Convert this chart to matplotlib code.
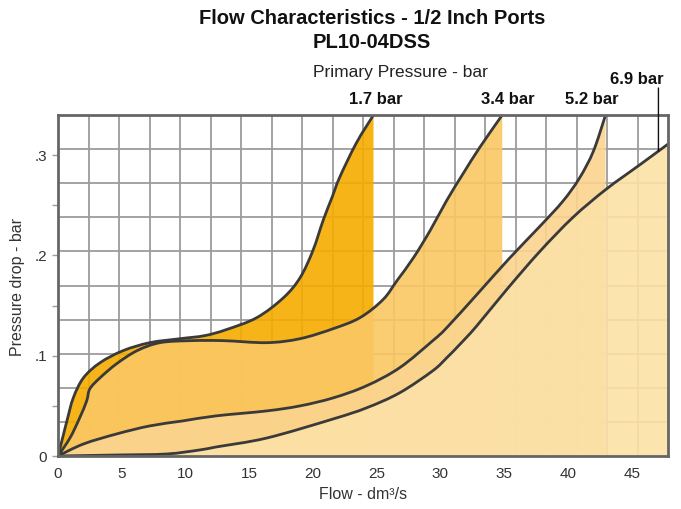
import numpy as np
import matplotlib
matplotlib.use("Agg")
import matplotlib.pyplot as plt
from matplotlib.path import Path
from matplotlib.patches import PathPatch
from matplotlib import transforms

plt.rcParams['font.family'] = ['Liberation Sans', 'DejaVu Sans']

# Pressure drop (bar) against flow (dm3/s) for each primary pressure
flow_17 = [0, 0.4, 0.7, 1.2, 2.0, 3.3, 5.1, 7.2, 9.6, 11.5, 13.2, 15.6, 17.7, 19.0, 20.0, 20.8, 21.5, 22.1, 23.4, 24.75]
drop_17 = [0, 0.02, 0.035, 0.058, 0.078, 0.093, 0.105, 0.113, 0.117, 0.12, 0.126, 0.138, 0.158, 0.178, 0.205, 0.235, 0.258, 0.278, 0.312, 0.34]

flow_34 = [0, 0.94, 1.7, 2.25, 2.5, 3.3, 4.6, 6.2, 8.0, 10.4, 13.0, 16.4, 19.0, 21.6, 23.7, 25.5, 26.6, 27.9, 29.2, 30.5, 31.8, 33.1, 34.85]
drop_34 = [0, 0.018, 0.038, 0.055, 0.067, 0.078, 0.092, 0.105, 0.113, 0.115, 0.115, 0.113, 0.117, 0.127, 0.138, 0.156, 0.175, 0.198, 0.225, 0.255, 0.282, 0.308, 0.34]

flow_52 = [0, 2.0, 4.6, 7.2, 9.8, 12.4, 16.4, 19.0, 21.6, 24.2, 26.8, 29.4, 30.5, 33.0, 35.4, 37.8, 39.6, 40.9, 42.0, 42.95]
drop_52 = [0, 0.012, 0.022, 0.030, 0.035, 0.040, 0.045, 0.050, 0.058, 0.070, 0.088, 0.115, 0.128, 0.163, 0.197, 0.229, 0.254, 0.277, 0.304, 0.34]

flow_69 = [0, 4.6, 8.5, 11.1, 12.4, 16.4, 21.6, 24.2, 26.8, 29.4, 30.5, 31.5, 32.8, 35.2, 37.8, 40.4, 43.0, 45.6, 47.85]
drop_69 = [0, 0.001, 0.002, 0.006, 0.009, 0.018, 0.037, 0.048, 0.063, 0.085, 0.098, 0.111, 0.129, 0.166, 0.204, 0.238, 0.266, 0.290, 0.311]

pressure_labels = ["1.7 bar", "3.4 bar", "5.2 bar", "6.9 bar"]
fill_colors = ["#F6AC00", "#FAC864", "#FBD48F", "#FCE1A7"]

x_ticks = [0, 5, 10, 15, 20, 25, 30, 35, 40, 45]
y_ticks = [0, 0.1, 0.2, 0.3]
y_tick_labels = ["0", ".1", ".2", ".3"]

x_max, y_max = 47.85, 0.34


def smooth_curve(xs, ys):
    """Catmull-Rom style Bezier path through the given points."""
    pts = np.column_stack([xs, ys]).astype(float)
    n = len(pts)
    verts = [pts[0]]
    codes = [Path.MOVETO]
    for i in range(n - 1):
        p0 = pts[i - 1] if i > 0 else pts[i]
        p1, p2 = pts[i], pts[i + 1]
        p3 = pts[i + 2] if i + 2 < n else pts[i + 1]
        verts += [p1 + (p2 - p0) / 6.0, p2 - (p3 - p1) / 6.0, p2]
        codes += [Path.CURVE4] * 3
    return verts, codes


fig = plt.figure(figsize=(6.81, 5.09), dpi=100)
ax = fig.add_axes([58 / 681, 1 - 456 / 509, 610 / 681, 341 / 509])
ax.set_xlim(0, x_max)
ax.set_ylim(0, y_max)

# background grid: 20 x 10 cells
for gx in np.linspace(0, x_max, 21)[1:-1]:
    ax.axvline(gx, color="#9c9c9c", lw=1.3, zorder=0.5)
for gy in np.linspace(0, y_max, 11)[1:-1]:
    ax.axhline(gy, color="#9c9c9c", lw=1.3, zorder=0.5)

series = [(flow_17, drop_17), (flow_34, drop_34), (flow_52, drop_52), (flow_69, drop_69)]
for k, ((fx, fy), col) in enumerate(zip(series, fill_colors)):
    verts, codes = smooth_curve(fx, fy)
    fverts = verts + [(fx[-1], 0.0), (fx[0], 0.0), (fx[0], 0.0)]
    fcodes = codes + [Path.LINETO, Path.LINETO, Path.CLOSEPOLY]
    ax.add_patch(PathPatch(Path(fverts, fcodes), facecolor=col, edgecolor="none",
                           alpha=0.9, zorder=1 + k))
for fx, fy in series:
    verts, codes = smooth_curve(fx, fy)
    ax.add_patch(PathPatch(Path(verts, codes), facecolor="none", edgecolor="#3a3a3a",
                           lw=2.0, zorder=6, capstyle="round", joinstyle="round"))

for s in ax.spines.values():
    s.set_color("#666666")
    s.set_linewidth(2.0)
    s.set_zorder(8)

ax.set_xticks(x_ticks)
ax.set_xticklabels([str(t) for t in x_ticks])
ax.set_yticks(y_ticks)
ax.set_yticklabels(y_tick_labels)
ax.set_yticks([0.05, 0.15, 0.25], minor=True)
ax.tick_params(axis="x", length=0, pad=8, labelsize=11, labelcolor="#333333")
ax.tick_params(axis="y", which="both", length=4, width=1.0, color="#9c9c9c",
               pad=4, labelsize=11, labelcolor="#333333")

ax.set_xlabel("Flow - dm³/s", fontsize=11.5, color="#333333", labelpad=4)
fig.text(18 / 681, 1 - 287 / 509, "Pressure drop - bar", rotation=90,
         ha="center", va="center", fontsize=11.5, color="#333333")

fig.text(372 / 681, 1 - 18 / 509, "Flow Characteristics - 1/2 Inch Ports",
         ha="center", va="center", fontsize=14.5, fontweight="bold", color="#111111")
fig.text(372 / 681, 1 - 43 / 509, "PL10-04DSS",
         ha="center", va="center", fontsize=14.5, fontweight="bold", color="#111111")
fig.text(400 / 681, 1 - 72 / 509, "Primary Pressure - bar",
         ha="center", va="center", fontsize=12.5, color="#222222")

blend = transforms.blended_transform_factory(ax.transData, fig.transFigure)
label_x = [24.9, 35.3, 41.9]
for lx, txt in zip(label_x, pressure_labels[:3]):
    ax.text(lx, 1 - 99 / 509, txt, transform=blend, ha="center", va="center",
            fontsize=12, fontweight="bold", color="#111111")
ax.text(45.4, 1 - 79 / 509, pressure_labels[3], transform=blend, ha="center",
        va="center", fontsize=12, fontweight="bold", color="#111111")

# leader from the 6.9 bar label down to its curve
lead_x = 47.1
lead_y = float(np.interp(lead_x, flow_69, drop_69))
ax.annotate("", xy=(lead_x, lead_y), xycoords="data",
            xytext=(lead_x, 1 - 88 / 509), textcoords=blend,
            arrowprops=dict(arrowstyle="-", color="#111111", lw=1.0,
                            shrinkA=0, shrinkB=0), zorder=9)

fig.savefig("out.png", dpi=100)
